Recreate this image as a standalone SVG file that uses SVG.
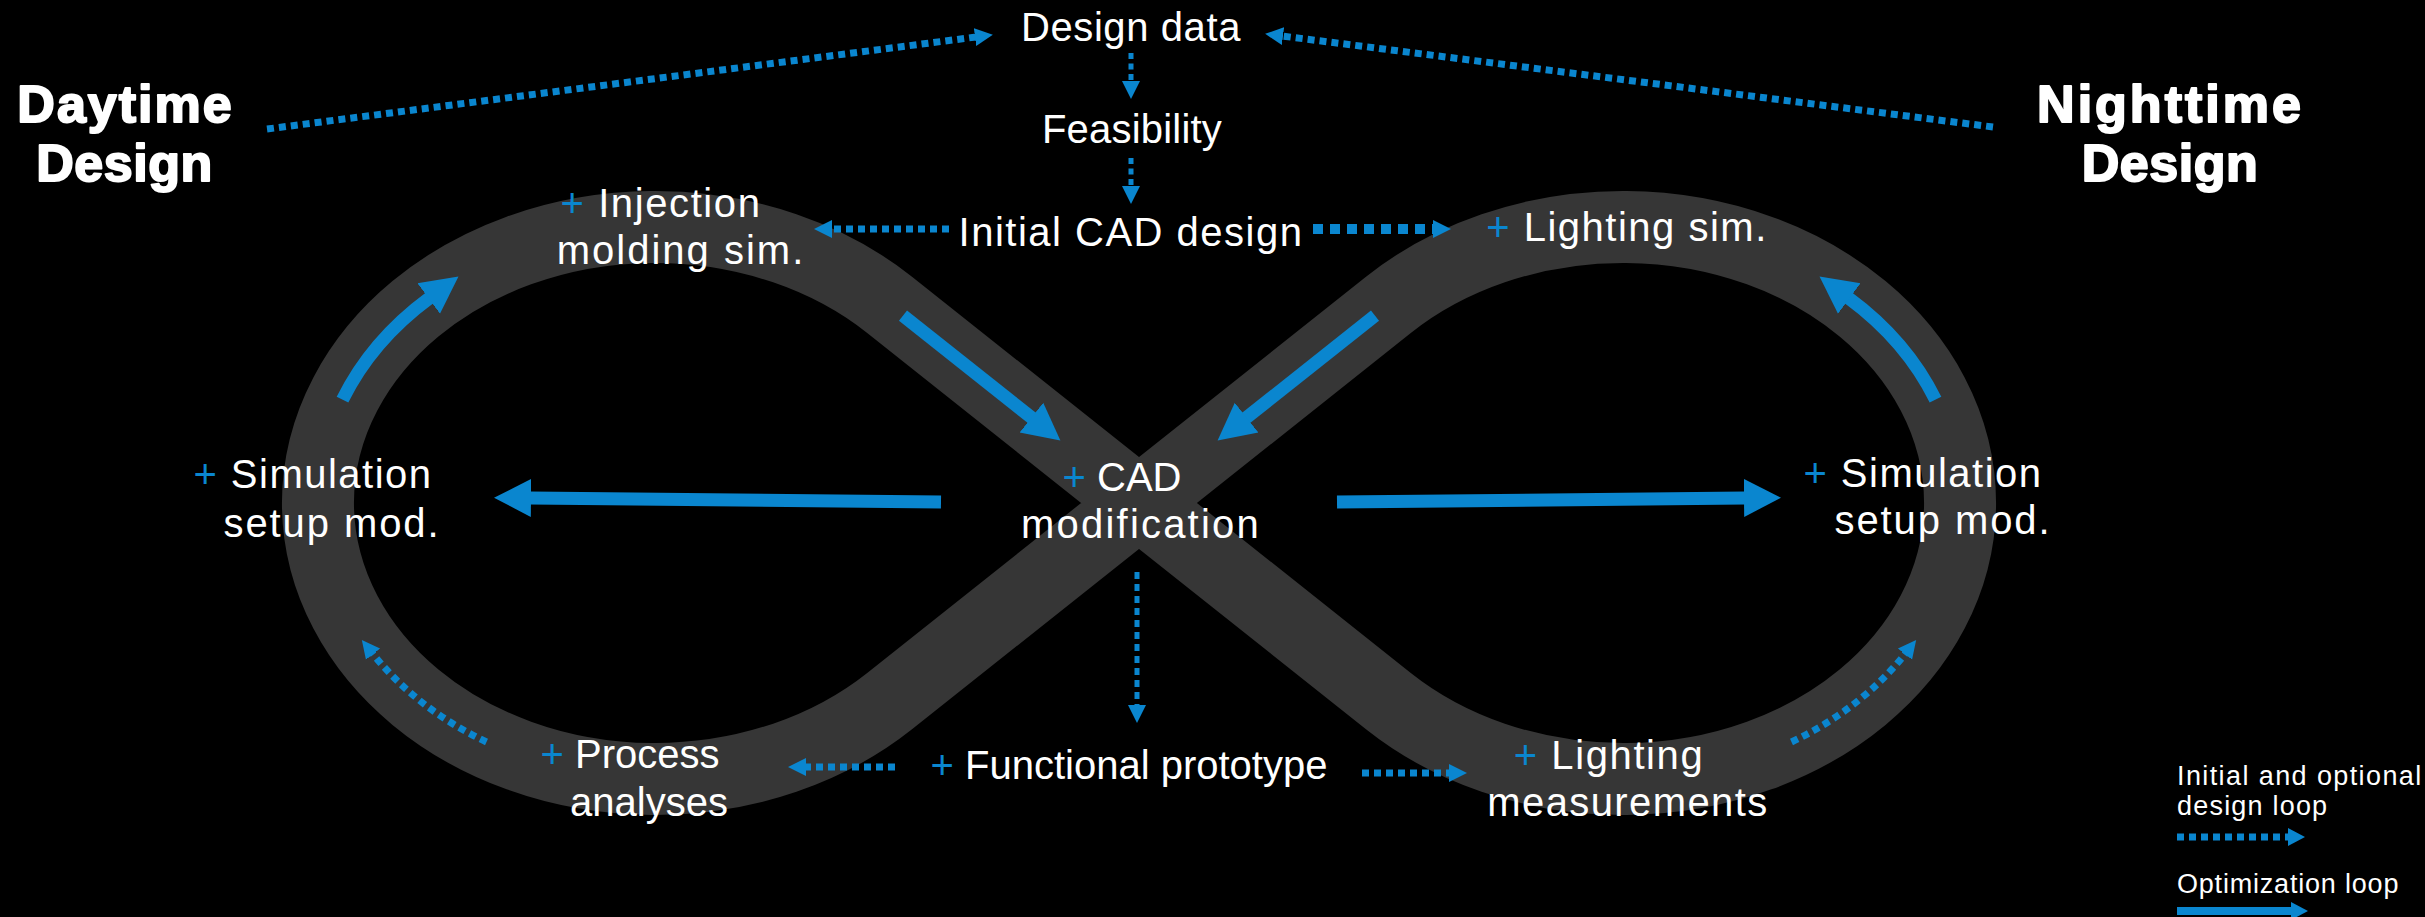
<svg xmlns="http://www.w3.org/2000/svg" width="2425" height="917" viewBox="0 0 2425 917">
<style>
.t{font-family:"Liberation Sans",Arial,sans-serif;font-size:40px;fill:#ffffff;text-anchor:middle}
.p{fill:#0a86cf}
.h{font-family:"Liberation Sans",Arial,sans-serif;font-size:52px;font-weight:bold;fill:#ffffff;stroke:#ffffff;stroke-width:2;stroke-linejoin:round;text-anchor:middle}
.lg{font-family:"Liberation Sans",Arial,sans-serif;font-size:27px;fill:#ffffff}
.sol{fill:none;stroke:#0a86cf;stroke-width:13;marker-end:url(#hs)}
.dot{fill:none;stroke:#0a86cf;stroke-width:7;stroke-dasharray:7 5;marker-end:url(#hd)}
</style>
<defs>
<marker id="hs" markerUnits="userSpaceOnUse" markerWidth="40" markerHeight="40" viewBox="0 -20 40 40" refX="1" refY="0" orient="auto"><path d="M0,-19 L37,0 L0,19 Z" fill="#0a86cf"/></marker>
<marker id="hd" markerUnits="userSpaceOnUse" markerWidth="20" markerHeight="20" viewBox="0 -10 20 20" refX="1" refY="0" orient="auto"><path d="M0,-9 L18,0 L0,9 Z" fill="#0a86cf"/></marker>
<marker id="hl" markerUnits="userSpaceOnUse" markerWidth="20" markerHeight="20" viewBox="0 -10 20 20" refX="1" refY="0" orient="auto"><path d="M0,-9 L17,0 L0,9 Z" fill="#0a86cf"/></marker>
</defs>
<rect width="2425" height="917" fill="#000000"/>
<g id="track">
<path d="M889.6,304.9 A337 276 0 1 0 889.6,701.1 L1388.4,304.9 A337 276 0 1 1 1388.4,701.1 Z" fill="none" stroke="#363636" stroke-width="72"/>
</g>
<g id="connectors">
<path class="dot" d="M267,129 L976,37"/>
<path class="dot" d="M1993,127 L1282,36"/>
<path class="dot" style="stroke-width:5;stroke-dasharray:6 4.5" d="M1131,53 L1131,82"/>
<path class="dot" style="stroke-width:5;stroke-dasharray:6 4.5" d="M1131,158 L1131,187"/>
<path class="dot" d="M949,229 L831,229"/>
<path class="dot" style="stroke-width:10;stroke-dasharray:10 7" d="M1313,229 L1434,229"/>
<path class="dot" style="stroke-width:5;stroke-dasharray:7 5" d="M1137,572 L1137,706"/>
<path class="dot" d="M895,767 L805,767"/>
<path class="dot" d="M1362,773 L1450,773"/>
<path class="dot" d="M486.5,742 A337 276 0 0 1 372.4,653.3"/>
<path class="dot" d="M1791.5,742 A337 276 0 0 0 1905.6,653.3"/>
<path class="sol" d="M342.5,399.6 A337 276 0 0 1 429.5,297.9"/>
<path class="sol" d="M1935.5,399.6 A337 276 0 0 0 1848.5,297.9"/>
<path class="sol" d="M903,315.6 L1032.2,418.2"/>
<path class="sol" d="M1375,315.6 L1245.8,418.2"/>
<path class="sol" d="M941,502 L530,498"/>
<path class="sol" d="M1337,502 L1745,498"/>
</g>
<g id="title-day"><text class="h" x="125.5" y="122" letter-spacing="2">Daytime</text><text class="h" x="124.5" y="181" letter-spacing="0.5">Design</text></g>
<g id="title-night"><text class="h" x="2170.5" y="122" letter-spacing="3">Nighttime</text><text class="h" x="2170" y="181" letter-spacing="0.5">Design</text></g>
<g id="design-data"><text class="t" x="1131" y="41" letter-spacing="0.6">Design data</text></g>
<g id="feasibility"><text class="t" x="1132" y="143" letter-spacing="0.2">Feasibility</text></g>
<g id="initial-cad"><text class="t" x="1131" y="246" letter-spacing="1.5">Initial CAD design</text></g>
<g id="injection"><text class="t" x="661" y="217" letter-spacing="1.6"><tspan class="p">+</tspan> Injection</text><text class="t" x="681" y="264" letter-spacing="2">molding sim.</text></g>
<g id="lighting-sim"><text class="t" x="1627" y="241" letter-spacing="1.5"><tspan class="p">+</tspan> Lighting sim.</text></g>
<g id="sim-left"><text class="t" x="313" y="488" letter-spacing="1.5"><tspan class="p">+</tspan> Simulation</text><text class="t" x="332" y="537" letter-spacing="1.9">setup mod.</text></g>
<g id="sim-right"><text class="t" x="1923" y="487" letter-spacing="1.5"><tspan class="p">+</tspan> Simulation</text><text class="t" x="1943" y="534" letter-spacing="1.9">setup mod.</text></g>
<g id="cad-mod"><text class="t" x="1122" y="491"><tspan class="p">+</tspan> CAD</text><text class="t" x="1141" y="538" letter-spacing="2.2">modification</text></g>
<g id="process"><text class="t" x="630" y="768"><tspan class="p">+</tspan> Process</text><text class="t" x="649" y="816">analyses</text></g>
<g id="functional"><text class="t" x="1129" y="779"><tspan class="p">+</tspan> Functional prototype</text></g>
<g id="lighting-meas"><text class="t" x="1609" y="769" letter-spacing="1.6"><tspan class="p">+</tspan> Lighting</text><text class="t" x="1628" y="816" letter-spacing="1.4">measurements</text></g>
<g id="legend">
<text class="lg" x="2177" y="784.5" letter-spacing="1.4">Initial and optional</text>
<text class="lg" x="2177" y="815" letter-spacing="1.2">design loop</text>
<path class="dot" style="marker-end:url(#hl)" d="M2177,837 L2289,837"/>
<text class="lg" x="2177" y="893" letter-spacing="0.8">Optimization loop</text>
<path d="M2177,911 L2292,911" fill="none" stroke="#0a86cf" stroke-width="8" style="marker-end:url(#hl)"/>
</g>
</svg>
